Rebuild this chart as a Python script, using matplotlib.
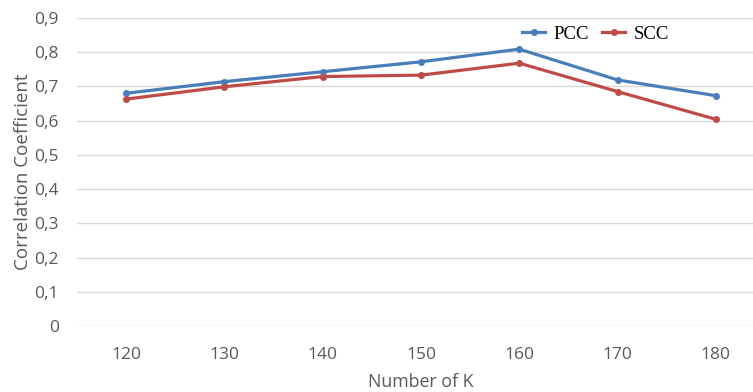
import matplotlib
matplotlib.use("Agg")
import matplotlib.pyplot as plt

categories = ["120", "130", "140", "150", "160", "170", "180"]
pcc = [0.680, 0.714, 0.743, 0.772, 0.809, 0.719, 0.673]
scc = [0.663, 0.699, 0.729, 0.733, 0.768, 0.685, 0.604]
yticks = [0, 0.1, 0.2, 0.3, 0.4, 0.5, 0.6, 0.7, 0.8, 0.9]
ytick_labels = ["0", "0,1", "0,2", "0,3", "0,4", "0,5", "0,6", "0,7", "0,8", "0,9"]

blue = "#4A7EBB"
red = "#BE4B48"
gray = "#595959"
tfont = "Open Sans"

fig = plt.figure(figsize=(7.53, 3.92), dpi=100)
ax = fig.add_axes([77/753, 66/392, 688/753, 308/392])

x = list(range(len(categories)))
ax.plot(x, pcc, color=blue, lw=2.3, marker="o", ms=4, label="PCC")
ax.plot(x, scc, color=red, lw=2.3, marker="o", ms=4, label="SCC")

ax.set_xlim(-0.5, len(categories) - 0.5)
ax.set_ylim(0, 0.9)
ax.set_yticks(yticks)
ax.set_yticklabels(ytick_labels, fontfamily=tfont, fontsize=12.5, color=gray)
ax.set_xticks(x)
ax.set_xticklabels(categories, fontfamily=tfont, fontsize=12.5, color=gray)
ax.tick_params(axis="both", length=0)
ax.tick_params(axis="y", pad=13)
ax.tick_params(axis="x", pad=15)

ax.grid(axis="y", color="#D9D9D9", lw=1)
ax.set_axisbelow(True)
for s in ax.spines.values():
    s.set_visible(False)

ax.set_xlabel("Number of K", fontfamily=tfont, fontsize=12.8, color=gray, labelpad=7)
ax.set_ylabel("Correlation Coefficient", fontfamily=tfont, fontsize=13.5, color=gray, labelpad=2)

leg = fig.legend(loc="center left", bbox_to_anchor=(522/753, 1 - 34/392),
                 bbox_transform=fig.transFigure, ncol=2, frameon=False,
                 prop={"family": "Liberation Serif", "size": 13.5},
                 borderpad=0, borderaxespad=0,
                 handlelength=1.23, handletextpad=0.45, columnspacing=0.7)

fig.savefig("out.png", dpi=100)
